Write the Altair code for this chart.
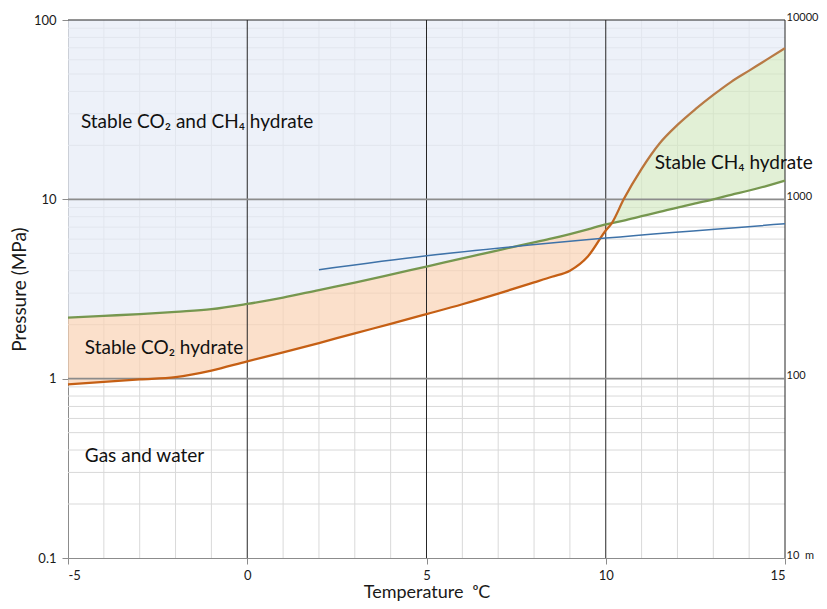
import altair as alt
import pandas as pd

# ---- data ----
T = [-5, -4, -3, -2, -1, 0, 1, 2, 3, 4, 5, 6, 7, 8, 8.5, 9, 9.5, 10, 10.17,
     10.5, 11, 11.5, 12, 12.5, 13, 13.5, 14, 14.5, 15]
co2_p = [0.93, 0.96, 0.99, 1.02, 1.11, 1.25, 1.40, 1.58, 1.79, 2.02, 2.29, 2.6,
         2.98, 3.44, 3.7, 4.0, 4.8, 6.7, 7.37, 10.0, 14.8, 20.5, 26.0, 31.8,
         38.2, 45.2, 52.2, 60.3, 69.6]
ch4_p = [2.19, 2.24, 2.29, 2.36, 2.44, 2.61, 2.83, 3.12, 3.43, 3.8, 4.22, 4.68,
         5.2, 5.75, 6.05, 6.4, 6.8, 7.25, 7.37, 7.62, 8.05, 8.5, 9.0, 9.48, 10.0,
         10.6, 11.2, 11.9, 12.7]
crossing_T = 10.17

line_T = [2, 5, 10, 15]
line_P = [4.05, 4.84, 6.08, 7.3]

label_T = [-4.64, -4.53, 11.37, -4.53]
label_P = [27.0, 1.48, 16.0, 0.372]
label_text = ["Stable CO\u2082 and CH\u2084 hydrate", "Stable CO\u2082 hydrate",
              "Stable CH\u2084 hydrate", "Gas and water"]

x_ticks = [-5, 0, 5, 10, 15]
x_minor = [-4, -3, -2, -1, 1, 2, 3, 4, 6, 7, 8, 9, 11, 12, 13, 14]
x_major_dark = [0, 5, 10, 15]
y_ticks = [0.1, 1, 10, 100]
y_minor = [0.2, 0.3, 0.4, 0.5, 0.6, 0.7, 0.8, 0.9,
           2, 3, 4, 5, 6, 7, 8, 9,
           20, 30, 40, 50, 60, 70, 80, 90]
y_major_gray = [1, 10]
y_major_dark = [100]

# ---- tables ----
df = pd.DataFrame({"T": T, "co2": co2_p, "ch4": ch4_p})
df["hi"] = df[["co2", "ch4"]].max(axis=1)
df["top"] = 100.0
df_co2_zone = df[df["T"] <= crossing_T]
df_ch4_zone = df[df["T"] >= crossing_T]
df_line = pd.DataFrame({"T": line_T, "P": line_P})
df_lab = pd.DataFrame({"T": label_T, "P": label_P, "text": label_text})

FONT = "Lato"
xs = alt.Scale(domain=[-5, 15], nice=False, zero=False)
ys = alt.Scale(type="log", domain=[0.1, 100], nice=False)

x_axis = alt.Axis(values=x_ticks, grid=False, domainColor="#8C8C8C", tickColor="#8C8C8C",
                  tickSize=6, labelFont=FONT, labelFontSize=13, labelColor="#1a1a1a",
                  labelPadding=5, labelExpr="'' + datum.value",
                  title="Temperature\u00a0 \u1d52C", titleFont=FONT,
                  titleFontSize=18, titleFontWeight="normal", titleColor="#1a1a1a",
                  titleBaseline="alphabetic", titlePadding=15)
left_axis = alt.Axis(values=y_ticks, grid=False, domainColor="#8C8C8C", tickColor="#8C8C8C",
                     tickSize=6, labelFont=FONT, labelFontSize=13, labelColor="#1a1a1a",
                     labelPadding=6,
                     labelExpr="datum.value < 0.5 ? '0.1' : format(datum.value, 'd')",
                     title="Pressure (MPa)", titleFont=FONT, titleFontSize=19,
                     titleFontWeight="normal", titleColor="#1a1a1a", titlePadding=4)
right_axis = alt.Axis(orient="right", values=y_ticks, grid=False, domain=False, ticks=False,
                      labelFont=FONT, labelFontSize=11, labelColor="#1a1a1a",
                      labelPadding=1, labelAlign="left", labelOffset=-3,
                      labelExpr="datum.value < 0.5 ? '10\u00a0\u00a0m' : format(datum.value * 100, 'd')",
                      title=None)

X = lambda f: alt.X(f, type="quantitative", scale=xs, axis=x_axis)
Yn = lambda f: alt.Y(f, type="quantitative", scale=ys, axis=None)


def vrules(vals, color, width):
    return alt.Chart(pd.DataFrame({"v": vals})).mark_rule(color=color, strokeWidth=width).encode(
        x=X("v"))


def hrules(vals, color, width):
    return alt.Chart(pd.DataFrame({"v": vals})).mark_rule(color=color, strokeWidth=width).encode(
        y=Yn("v"))


minor = vrules(x_minor, "#D9D9D9", 1) + hrules(y_minor, "#D9D9D9", 1)

blue_fill = alt.Chart(df).mark_area(color="#E5EBF6", opacity=0.7, interpolate="monotone").encode(
    x=X("T"), y=alt.Y("hi:Q", scale=ys, axis=left_axis), y2="top")
orange_fill = alt.Chart(df_co2_zone).mark_area(color="#F9D3B5", opacity=0.7,
                                               interpolate="monotone").encode(
    x=X("T"), y=Yn("co2"), y2="ch4")
green_fill = alt.Chart(df_ch4_zone).mark_area(color="#D6EAC4", opacity=0.7,
                                              interpolate="monotone").encode(
    x=X("T"), y=Yn("ch4"), y2="co2")

major = (vrules(x_major_dark, "#262626", 1) + hrules(y_major_gray, "#8C8C8C", 1.6)
         + hrules(y_major_dark, "#262626", 1.2))

orange_grad = alt.Gradient(
    gradient="linear", x1=0, x2=1, y1=0, y2=0,
    stops=[alt.GradientStop(color="#C55F14", offset=0),
           alt.GradientStop(color="#C55F14", offset=0.74),
           alt.GradientStop(color="#B87A45", offset=0.82),
           alt.GradientStop(color="#B87A45", offset=1)])

co2_line = alt.Chart(df).mark_line(color=orange_grad, strokeWidth=2.3,
                                   interpolate="monotone").encode(x=X("T"), y=Yn("co2"))
ch4_line = alt.Chart(df).mark_line(color="#76974F", strokeWidth=2.3,
                                   interpolate="monotone").encode(x=X("T"), y=Yn("ch4"))
blue_line = alt.Chart(df_line).mark_line(color="#3E72A8", strokeWidth=1.5,
                                         interpolate="monotone").encode(
    x=X("T"), y=alt.Y("P:Q", scale=ys, axis=right_axis))

labels = alt.Chart(df_lab).mark_text(align="left", baseline="middle", font=FONT, fontSize=19,
                                     color="#111111").encode(
    x=X("T"), y=Yn("P"), text="text:N")

chart = alt.layer(
    minor, blue_fill, orange_fill, green_fill, major, ch4_line, co2_line, blue_line, labels
).resolve_axis(y="independent").properties(
    width=717, height=538,
    padding={"left": 60, "top": 12, "right": 34, "bottom": 43},
    autosize=alt.AutoSizeParams(type="none"),
    background="white",
).configure_view(stroke=None)

chart.save("out.html", embed_options={"renderer": "svg", "actions": False})
